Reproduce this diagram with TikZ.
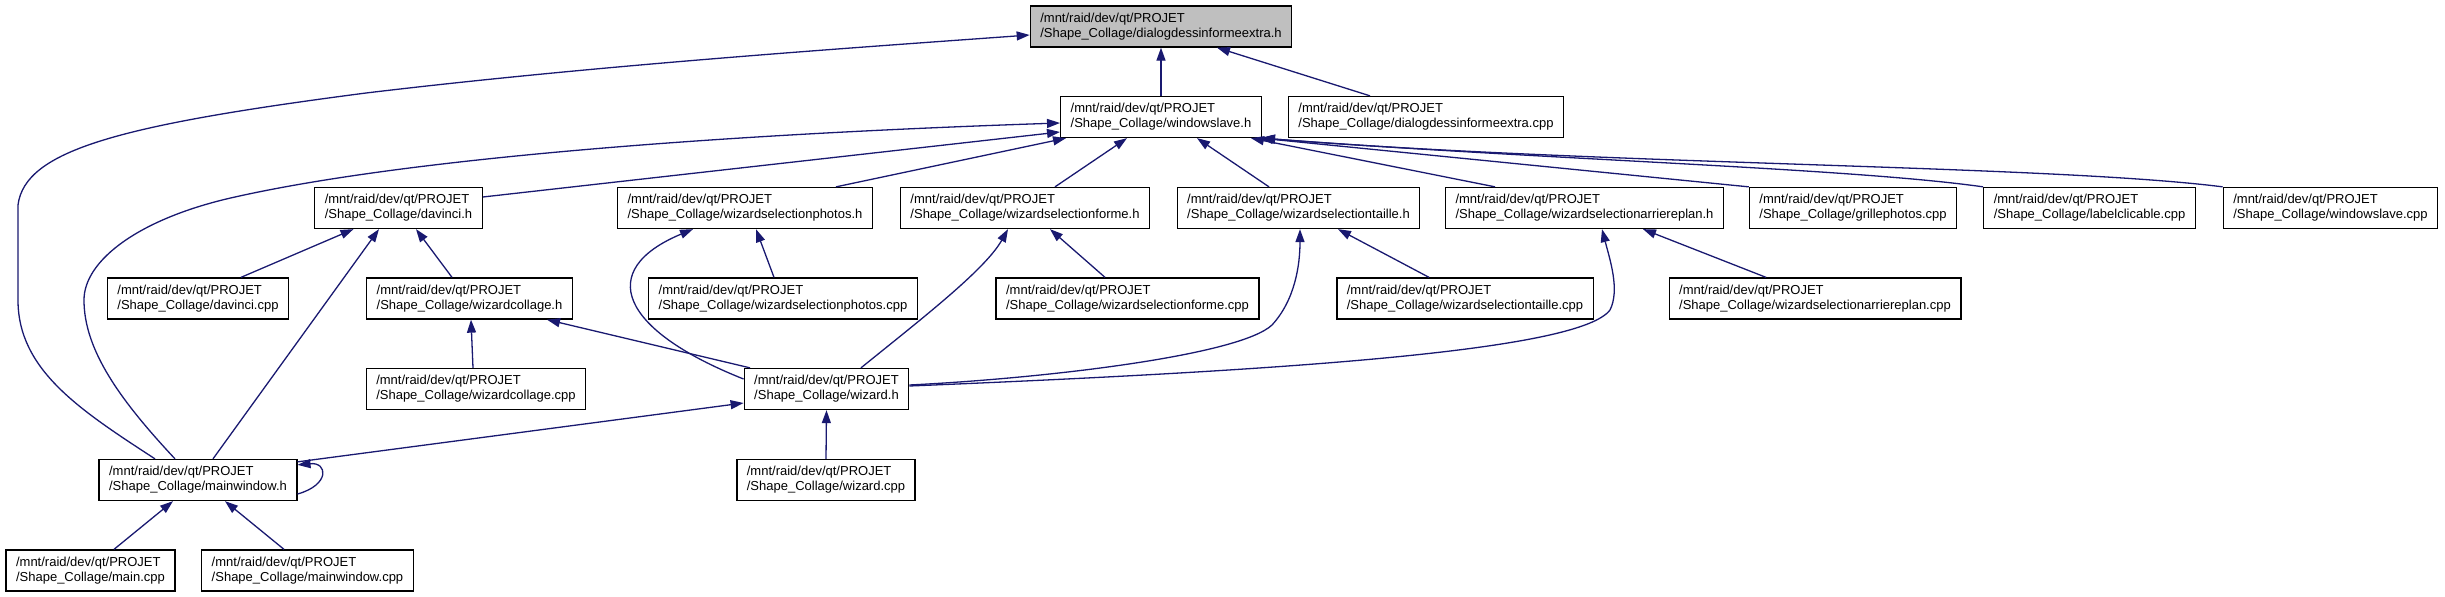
\documentclass[tikz,border=0pt]{standalone}
\usepackage{fontspec}
\setmainfont{Liberation Sans}
\usetikzlibrary{arrows.meta}
\definecolor{inclblue}{RGB}{25,25,112}
\definecolor{rootgray}{RGB}{191,191,191}
\newcommand{\srcfile}[1]{/mnt/raid/dev/qt/PROJET\\/Shape\_Collage/#1}

\begin{document}
\begin{tikzpicture}[
  x=1pt, y=-1pt,
  srcbox/.style={rectangle, draw=black, line width=1.3pt, fill=white,
                 minimum height=41pt, inner xsep=10pt, inner ysep=2pt,
                 font=\fontsize{13}{15}\selectfont, align=left},
  rootbox/.style={srcbox, fill=rootgray},
  incl/.style={-{Triangle[length=13pt, width=9pt]}, line width=1.3pt, draw=inclblue}
]
\useasboundingbox (0,0) rectangle (2445,597);

% ===== ROW Y POSITIONS =====
\def\ya{26.5}
\def\yb{117}
\def\yc{208}
\def\yd{298.5}
\def\ye{389}
\def\yf{480}
\def\yg{570.5}

% ===== FILES =====
\node[rootbox] (top) at (1161,\ya) {\srcfile{dialogdessinformeextra.h}};

\node[srcbox] (ws)   at (1161,\yb) {\srcfile{windowslave.h}};
\node[srcbox] (dcpp) at (1426,\yb) {\srcfile{dialogdessinformeextra.cpp}};

\node[srcbox] (dav)   at (398.5,\yc)  {\srcfile{davinci.h}};
\node[srcbox] (wsp)   at (745,\yc)    {\srcfile{wizardselectionphotos.h}};
\node[srcbox] (wsf)   at (1025,\yc)   {\srcfile{wizardselectionforme.h}};
\node[srcbox] (wst)   at (1298.5,\yc) {\srcfile{wizardselectiontaille.h}};
\node[srcbox] (wsa)   at (1584.5,\yc) {\srcfile{wizardselectionarriereplan.h}};
\node[srcbox] (gri)   at (1853,\yc)   {\srcfile{grillephotos.cpp}};
\node[srcbox] (lab)   at (2089.5,\yc) {\srcfile{labelclicable.cpp}};
\node[srcbox] (wscpp) at (2330.5,\yc) {\srcfile{windowslave.cpp}};

\node[srcbox] (davcpp) at (198,\yd)    {\srcfile{davinci.cpp}};
\node[srcbox] (wc)     at (469.5,\yd)  {\srcfile{wizardcollage.h}};
\node[srcbox] (wspcpp) at (783,\yd)    {\srcfile{wizardselectionphotos.cpp}};
\node[srcbox] (wsfcpp) at (1127.5,\yd) {\srcfile{wizardselectionforme.cpp}};
\node[srcbox] (wstcpp) at (1465,\yd)   {\srcfile{wizardselectiontaille.cpp}};
\node[srcbox] (wsacpp) at (1815,\yd)   {\srcfile{wizardselectionarriereplan.cpp}};

\node[srcbox] (wccpp) at (476,\ye)   {\srcfile{wizardcollage.cpp}};
\node[srcbox] (wiz)   at (826.5,\ye) {\srcfile{wizard.h}};

\node[srcbox] (mw)     at (198,\yf) {\srcfile{mainwindow.h}};
\node[srcbox] (wizcpp) at (826,\yf) {\srcfile{wizard.cpp}};

\node[srcbox] (maincpp) at (90.5,\yg)  {\srcfile{main.cpp}};
\node[srcbox] (mwcpp)   at (307.5,\yg) {\srcfile{mainwindow.cpp}};

% ===== INCLUDES OF THE ROOT =====
\draw[incl] (ws.north) -- (top.south);
\draw[incl] ([xshift=-56pt]dcpp.north) -- ([xshift=56pt]top.south);
\draw[incl] ([xshift=-43pt]mw.north) .. controls (80,410) and (18,370) .. (18,300)
  -- (18,205) .. controls (25,150) and (120,125) .. (366,93)
  .. controls (600,65) and (850,48) .. ([yshift=-8.5pt]top.west);

% ===== INCLUDES OF windowslave.h =====
\draw[incl] ([xshift=-23pt]mw.north) .. controls (120,400) and (84,350) .. (84,300)
  .. controls (84,260) and (140,218) .. (235,197)
  .. controls (400,160) and (700,135) .. ([yshift=-6pt]ws.west);
\draw[incl] ([yshift=11pt]dav.east) -- ([yshift=-15pt]ws.west);
\draw[incl] ([xshift=91pt]wsp.north) -- ([xshift=6pt]ws.south west);
\draw[incl] ([xshift=30pt]wsf.north) -- ([xshift=-34pt]ws.south);
\draw[incl] ([xshift=-29.5pt]wst.north) -- ([xshift=36pt]ws.south);
\draw[incl] ([xshift=-89.5pt]wsa.north) -- ([xshift=-11pt]ws.south east);
\draw[incl] (gri.north west) -- ([xshift=-2pt]ws.south east);
\draw[incl] (lab.north west) .. controls (1850,168) and (1550,160) .. (ws.south east);
\draw[incl] (wscpp.north west) .. controls (2050,165) and (1600,165) .. (ws.south east);

% ===== INCLUDES OF THE SECOND ROW =====
\draw[incl] ([xshift=43pt]davcpp.north) -- ([xshift=-45pt]dav.south);
\draw[incl] ([xshift=-17.5pt]wc.north) -- ([xshift=17.5pt]dav.south);
\draw[incl] ([xshift=15pt]mw.north) -- ([xshift=-19.5pt]dav.south);

\draw[incl] ([xshift=-9pt]wspcpp.north) -- ([xshift=11pt]wsp.south);
\draw[incl] ([yshift=10pt]wiz.west) .. controls (620,330) and (595,270) .. ([xshift=-52pt]wsp.south);

\draw[incl] ([xshift=-22.5pt]wsfcpp.north) -- ([xshift=25pt]wsf.south);
\draw[incl] ([xshift=34.5pt]wiz.north) .. controls (920,320) and (985,270) .. ([xshift=-17pt]wsf.south);

\draw[incl] ([xshift=-36pt]wstcpp.north) -- ([xshift=39.5pt]wst.south);
\draw[incl] ([yshift=4pt]wiz.east) .. controls (1050,378) and (1240,355) .. (1272,325)
  .. controls (1295,300) and (1300,265) .. ([xshift=1.5pt]wst.south);

\draw[incl] ([xshift=-49pt]wsacpp.north) -- ([xshift=58.5pt]wsa.south);
\draw[incl] ([yshift=3pt]wiz.east) .. controls (1300,370) and (1580,350) .. (1610,310)
  .. controls (1620,290) and (1610,260) .. ([xshift=17.5pt]wsa.south);

% ===== LOWER ROWS =====
\draw[incl] ([xshift=-3pt]wccpp.north) -- ([xshift=1.5pt]wc.south);
\draw[incl] ([xshift=-76.5pt]wiz.north) -- ([xshift=77.5pt]wc.south);
\draw[incl] (wizcpp.north) -- (wiz.south);
\draw[incl] ([yshift=-3pt]mw.north east) -- ([yshift=-14pt]wiz.west);
\draw[incl] ([yshift=-14pt]mw.east) .. controls (330,485) and (328,462) .. ([yshift=-6pt]mw.north east);
\draw[incl] ([xshift=23.5pt]maincpp.north) -- ([xshift=-25pt]mw.south);
\draw[incl] ([xshift=-23.5pt]mwcpp.north) -- ([xshift=27pt]mw.south);

\end{tikzpicture}
\end{document}
